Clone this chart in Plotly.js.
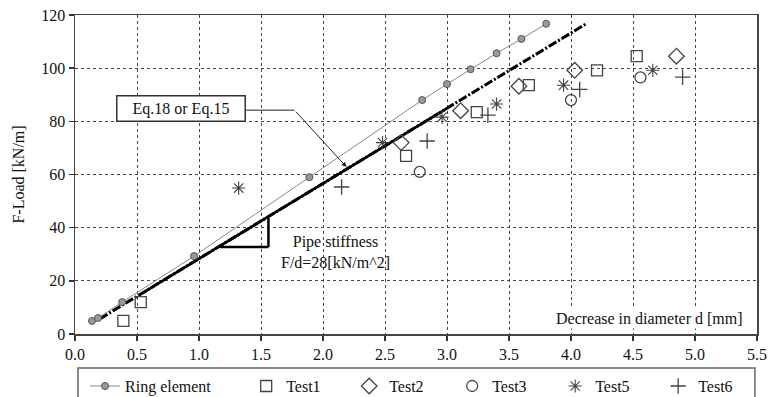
<!DOCTYPE html>
<html>
<head>
<meta charset="utf-8">
<script src="https://cdn.plot.ly/plotly-3.0.1.min.js"></script>
<style>html,body{margin:0;padding:0;background:#fff}#chart{width:769px;height:397px}</style>
</head>
<body>
<div id="chart"></div>
<script>
// ---- data ----
const ringX = [0.137, 0.185, 0.38, 0.96, 1.89, 2.80, 3.00, 3.19, 3.40, 3.60, 3.80];
const ringY = [4.9, 6.0, 12.0, 29.3, 59.0, 88.0, 94.0, 99.6, 105.6, 111.0, 116.7];

const eq18X = [0.2, 4.13];
const eq18Y = [5.7, 116.9];
const eq15X = [0.55, 3.0];
const eq15Y = [15.6, 84.9];

const test1X = [0.39, 0.53, 2.67, 3.24, 3.66, 4.21, 4.53];
const test1Y = [4.9, 12.0, 67.0, 83.5, 93.6, 99.2, 104.5];
const test2X = [2.63, 3.11, 3.58, 4.03, 4.85];
const test2Y = [72.0, 84.0, 93.2, 99.2, 104.5];
const test3X = [2.78, 4.00, 4.56];
const test3Y = [61.0, 88.0, 96.5];
const test5X = [1.32, 2.48, 2.96, 3.40, 3.94, 4.66];
const test5Y = [54.9, 72.0, 81.6, 86.5, 93.6, 99.2];
const test6X = [2.15, 2.84, 3.33, 4.07, 4.90];
const test6Y = [55.3, 72.6, 82.3, 92.0, 96.6];

const xTicks = [0, 0.5, 1, 1.5, 2, 2.5, 3, 3.5, 4, 4.5, 5, 5.5];
const xTickText = ['0.0','0.5','1.0','1.5','2.0','2.5','3.0','3.5','4.0','4.5','5.0','5.5'];
const yTicks = [0, 20, 40, 60, 80, 100, 120];

const F = 'Liberation Serif';
const mk = '#444';
const sp = '\u00a0\u00a0\u00a0';

const traces = [
  {x: eq18X, y: eq18Y, mode: 'lines', showlegend: false, hoverinfo: 'skip',
   line: {color: '#000', width: 3, dash: '9px,2px,2px,2px'}},
  {x: eq15X, y: eq15Y, mode: 'lines', showlegend: false, hoverinfo: 'skip',
   line: {color: '#000', width: 2.6}},
  {x: ringX, y: ringY, name: 'Ring element', mode: 'lines+markers', legend: 'legend',
   line: {color: '#888', width: 1},
   marker: {symbol: 'circle', size: 7, color: '#999', line: {color: '#555', width: 1}}},
  {x: test1X, y: test1Y, name: 'Test1', mode: 'markers', legend: 'legend2',
   marker: {symbol: 'square-open', size: 11, color: mk, line: {width: 1.3}}},
  {x: test2X, y: test2Y, name: 'Test2', mode: 'markers', legend: 'legend2',
   marker: {symbol: 'diamond-open', size: 12, color: mk, line: {width: 1.3}}},
  {x: test3X, y: test3Y, name: 'Test3', mode: 'markers', legend: 'legend2',
   marker: {symbol: 'circle-open', size: 11, color: mk, line: {width: 1.3}}},
  {x: test5X, y: test5Y, name: 'Test5', mode: 'markers', legend: 'legend2',
   marker: {symbol: 'asterisk-open', size: 11, color: mk, line: {width: 1.1, color: mk}}},
  {x: test6X, y: test6Y, name: 'Test6', mode: 'markers', legend: 'legend2',
   marker: {symbol: 'cross-thin-open', size: 11, color: mk, line: {width: 1.3, color: mk}}}
];

const layout = {
  width: 769, height: 397,
  margin: {l: 75, r: 12, t: 15, b: 63, autoexpand: false},
  paper_bgcolor: '#fff', plot_bgcolor: '#fff',
  font: {family: F, size: 16, color: '#111'},
  xaxis: {
    range: [0, 5.5], tickvals: xTicks, ticktext: xTickText,
    ticks: 'outside', ticklen: 5, tickcolor: '#333', tickwidth: 1.5,
    showline: true, linecolor: '#444', linewidth: 1.5, mirror: true,
    showgrid: true, gridcolor: '#444', griddash: 'dot', gridwidth: 1,
    zeroline: false, tickfont: {family: F, size: 16, color: '#111'}
  },
  yaxis: {
    range: [0, 120], tickvals: yTicks,
    ticks: 'outside', ticklen: 5, tickcolor: '#333', tickwidth: 1.5,
    showline: true, linecolor: '#444', linewidth: 1.5, mirror: true,
    showgrid: true, gridcolor: '#444', griddash: 'dot', gridwidth: 1,
    zeroline: false, tickfont: {family: F, size: 16, color: '#111'},
    title: {text: 'F-Load [kN/m]', font: {family: F, size: 16, color: '#111'}, standoff: 12}
  },
  legend: {orientation: 'h', x: 0.0147, xanchor: 'left', y: -0.11, yanchor: 'top',
           bgcolor: 'rgba(0,0,0,0)', borderwidth: 0, font: {family: F, size: 16, color: '#111'}},
  legend2: {orientation: 'h', x: 0.251, xanchor: 'left', y: -0.11, yanchor: 'top',
            entrywidth: 58, entrywidthmode: 'pixels',
            bgcolor: 'rgba(0,0,0,0)', borderwidth: 0, font: {family: F, size: 16, color: '#111'}},
  shapes: [
    {type: 'rect', xref: 'paper', yref: 'paper', x0: 0.0044, x1: 0.997, y0: -0.1066, y1: -0.25,
     line: {color: '#666', width: 1.5}, fillcolor: 'rgba(0,0,0,0)'},
    {type: 'line', xref: 'x', yref: 'y', x0: 1.38, y0: 84.2, x1: 1.77, y1: 84.2,
     line: {color: '#222', width: 1}},
    {type: 'line', xref: 'x', yref: 'y', x0: 1.17, y0: 32.7, x1: 1.56, y1: 32.7,
     line: {color: '#000', width: 2.5}},
    {type: 'line', xref: 'x', yref: 'y', x0: 1.56, y0: 32.7, x1: 1.56, y1: 43.7,
     line: {color: '#000', width: 2.5}}
  ],
  annotations: [
    {xref: 'x', yref: 'y', x: 0.855, y: 85, text: sp + 'Eq.18 or Eq.15' + sp, showarrow: false,
     bordercolor: '#333', borderwidth: 1.5, borderpad: 3, bgcolor: '#fff',
     font: {family: F, size: 16, color: '#111'}},
    {xref: 'x', yref: 'y', x: 2.19, y: 62.8, ax: 1.77, ay: 84.2, axref: 'x', ayref: 'y',
     text: '', showarrow: true, arrowhead: 2, arrowsize: 1, arrowwidth: 1, arrowcolor: '#222'},
    {xref: 'x', yref: 'y', x: 2.1, y: 31, text: 'Pipe stiffness<br>F/d=28[kN/m^2]', showarrow: false,
     align: 'center', font: {family: F, size: 16, color: '#111'}},
    {xref: 'paper', yref: 'y', x: 0.982, y: 6, xanchor: 'right', yanchor: 'middle',
     text: 'Decrease in diameter d [mm]', showarrow: false, bgcolor: '#fff',
     font: {family: F, size: 16, color: '#111'}}
  ]
};

Plotly.newPlot('chart', traces, layout, {staticPlot: true, displayModeBar: false});
</script>
</body>
</html>
